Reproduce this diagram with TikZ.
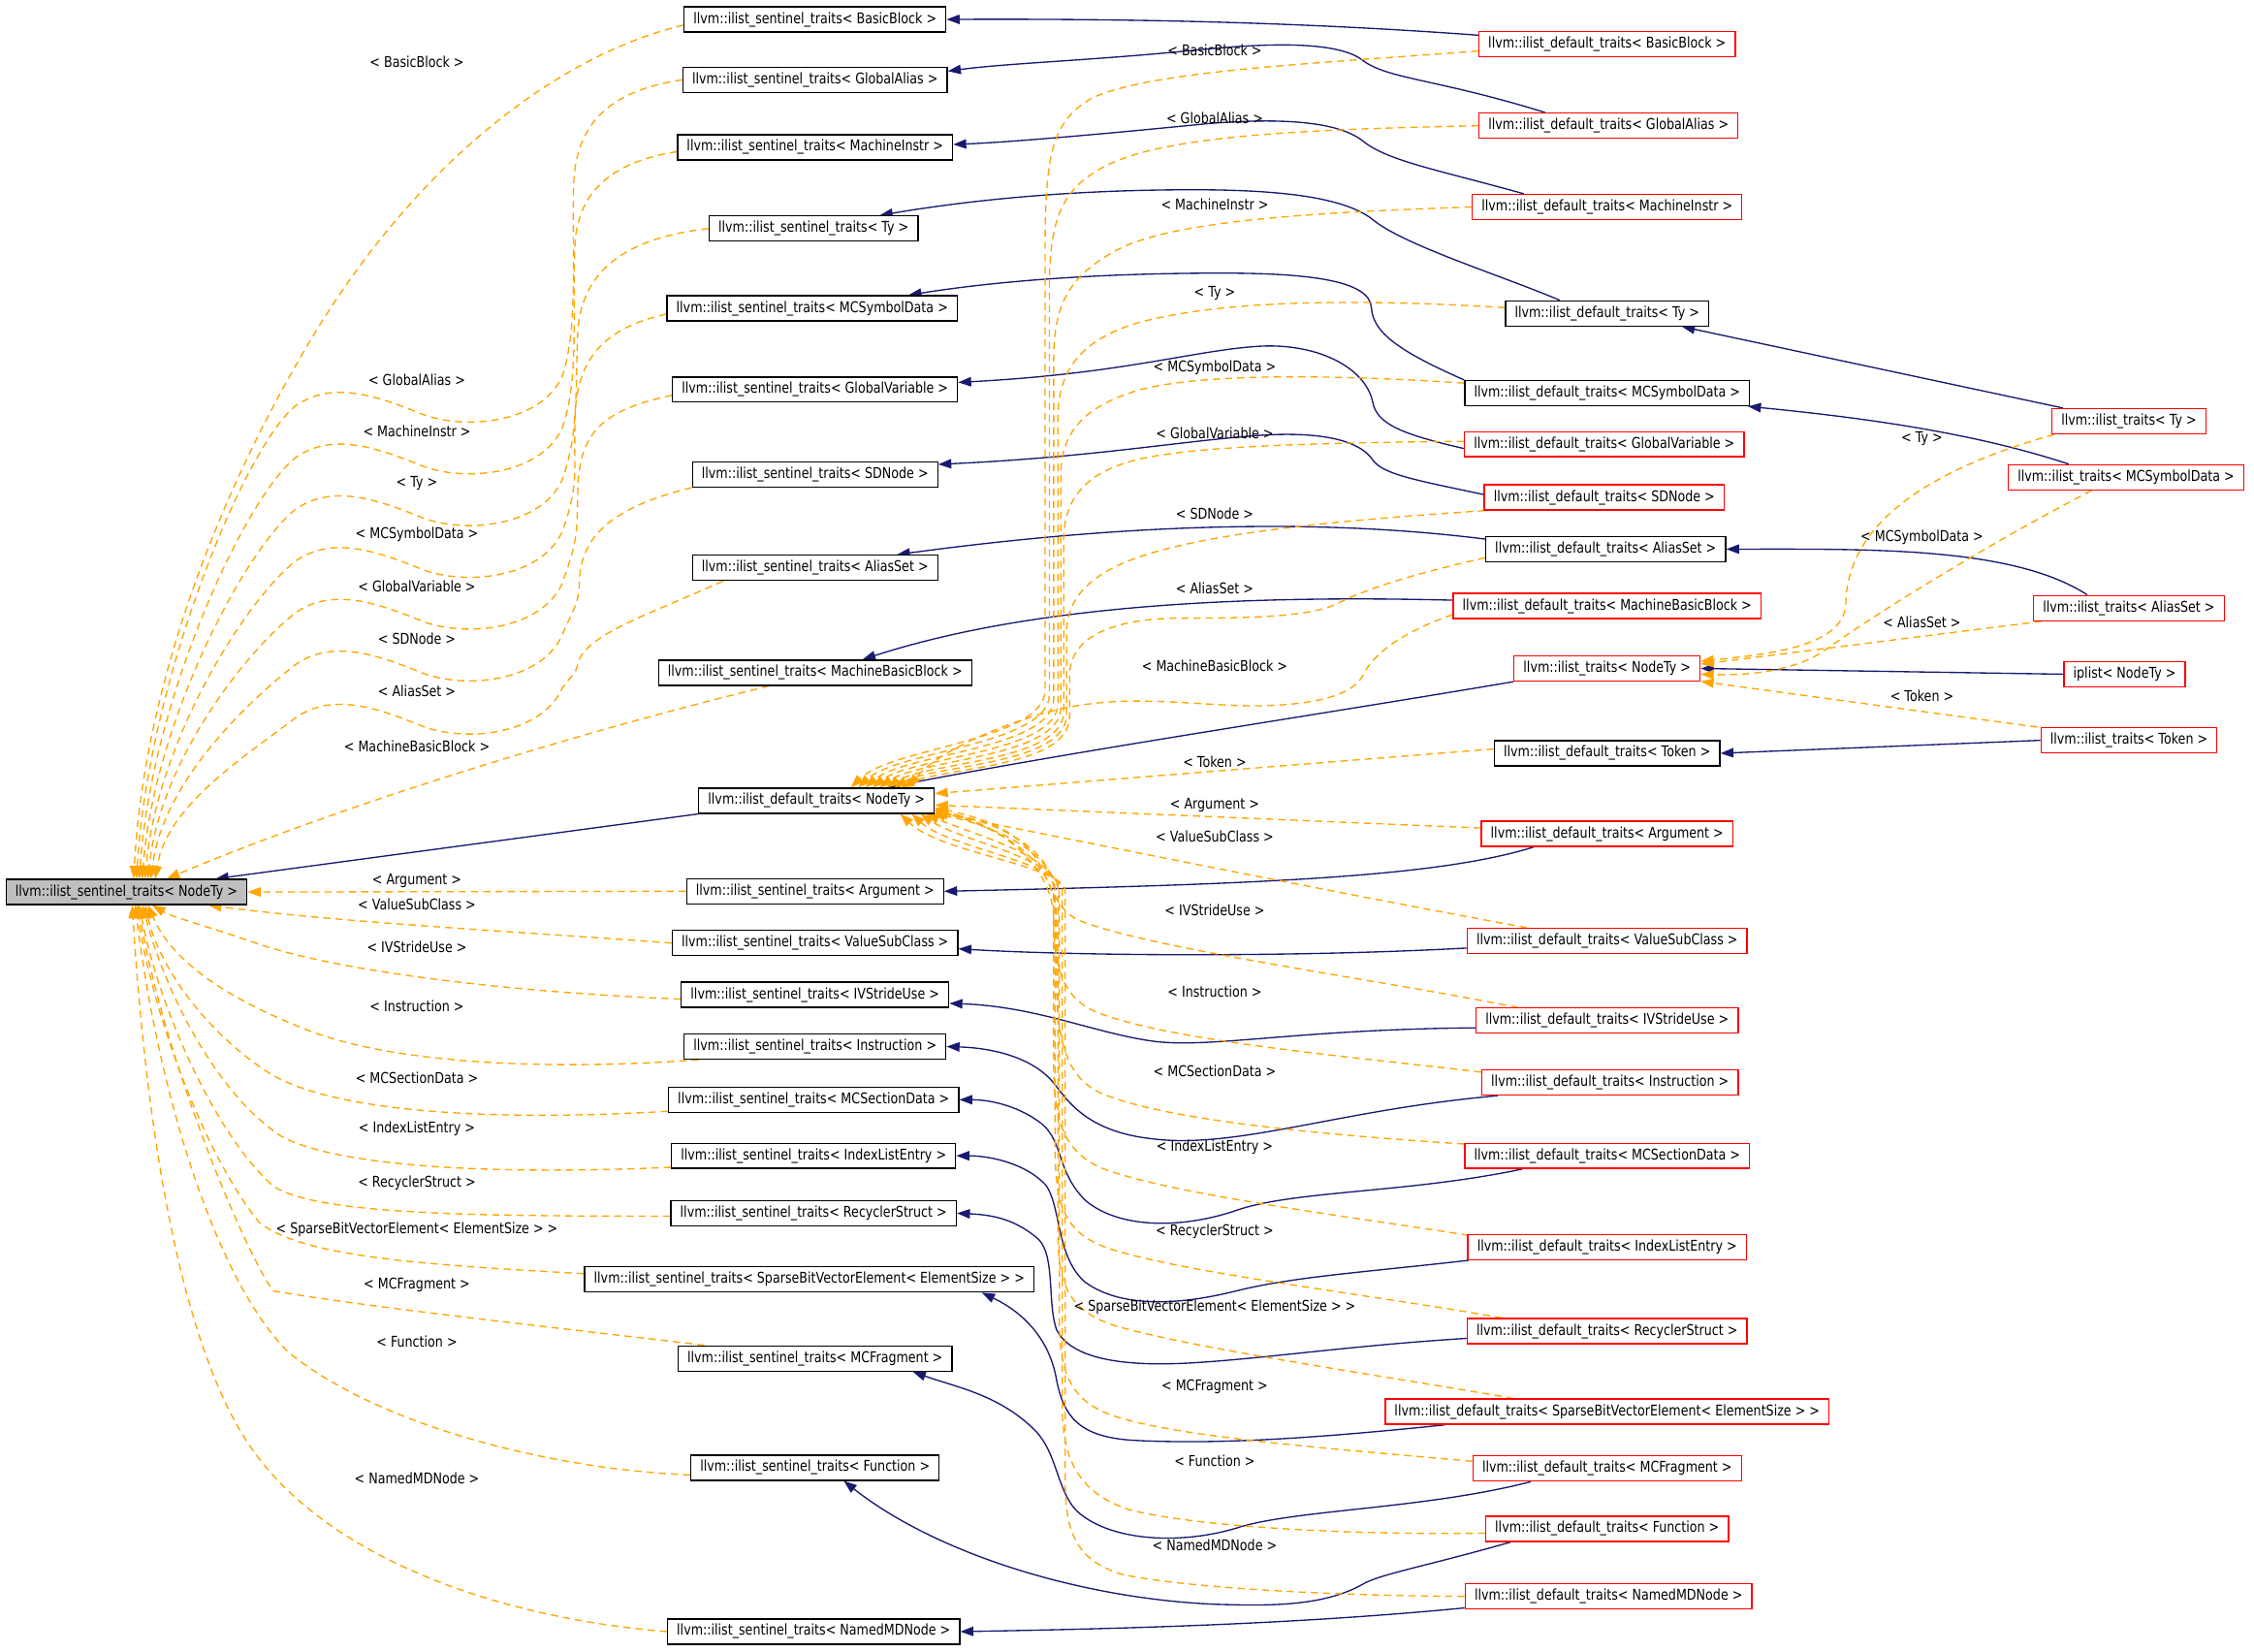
\documentclass[tikz,border=0pt]{standalone}
\usepackage{fontspec}
\setmainfont{DejaVu Sans}[FakeStretch=0.83]
\usetikzlibrary{arrows.meta,calc,backgrounds}
\newcommand{\dfont}{\fontsize{10.3}{12}\selectfont}
\definecolor{navy}{HTML}{191970}
\definecolor{dorange}{HTML}{FFA500}
\definecolor{rootgray}{HTML}{BFBFBF}
\tikzset{
 nbox/.style={draw=black, fill=white, line width=0.9pt, inner xsep=6.5pt, inner ysep=0pt, minimum height=17.5pt, font=\dfont},
 rbox/.style={nbox, draw=red},
 inh/.style={draw=navy, line width=0.9pt, -{Triangle[length=9pt,width=6.5pt]}},
 tmpl/.style={draw=dorange, line width=0.9pt, dash pattern=on 5pt off 3.5pt, -{Triangle[length=9pt,width=6.5pt]}},
 lbl/.style={font=\dfont, inner sep=0pt}
}
\begin{document}
\begin{tikzpicture}[x=1pt,y=-1pt]
\useasboundingbox (0,0) rectangle (1568,1149);
% root
\node[nbox, fill=rootgray] (R) at (88,620.5) {llvm::ilist\_sentinel\_traits< NodeTy >};
% sentinel column
\node[nbox] (SBB) at (567,13.5) {llvm::ilist\_sentinel\_traits< BasicBlock >};
\node[nbox] (SGA) at (567,55.5) {llvm::ilist\_sentinel\_traits< GlobalAlias >};
\node[nbox] (SMI) at (567,102.5) {llvm::ilist\_sentinel\_traits< MachineInstr >};
\node[nbox] (STY) at (566,159) {llvm::ilist\_sentinel\_traits< Ty >};
\node[nbox] (SMS) at (565,214.5) {llvm::ilist\_sentinel\_traits< MCSymbolData >};
\node[nbox] (SGV) at (567,271) {llvm::ilist\_sentinel\_traits< GlobalVariable >};
\node[nbox] (SSD) at (567,330) {llvm::ilist\_sentinel\_traits< SDNode >};
\node[nbox] (SAS) at (567,395) {llvm::ilist\_sentinel\_traits< AliasSet >};
\node[nbox] (SMB) at (567,468) {llvm::ilist\_sentinel\_traits< MachineBasicBlock >};
\node[nbox] (DN) at (568,557) {llvm::ilist\_default\_traits< NodeTy >};
\node[nbox] (SAR) at (567,620) {llvm::ilist\_sentinel\_traits< Argument >};
\node[nbox] (SVS) at (567,656) {llvm::ilist\_sentinel\_traits< ValueSubClass >};
\node[nbox] (SIV) at (567,692) {llvm::ilist\_sentinel\_traits< IVStrideUse >};
\node[nbox] (SIN) at (567,728) {llvm::ilist\_sentinel\_traits< Instruction >};
\node[nbox] (SMC) at (566,765) {llvm::ilist\_sentinel\_traits< MCSectionData >};
\node[nbox] (SIL) at (566,804) {llvm::ilist\_sentinel\_traits< IndexListEntry >};
\node[nbox] (SRS) at (566,844) {llvm::ilist\_sentinel\_traits< RecyclerStruct >};
\node[nbox] (SSB) at (563,890) {llvm::ilist\_sentinel\_traits< SparseBitVectorElement< ElementSize > >};
\node[nbox] (SMF) at (567,945) {llvm::ilist\_sentinel\_traits< MCFragment >};
\node[nbox] (SFN) at (567,1021) {llvm::ilist\_sentinel\_traits< Function >};
\node[nbox] (SNM) at (566,1135) {llvm::ilist\_sentinel\_traits< NamedMDNode >};
% default column
\node[rbox] (DBB) at (1118,30.5) {llvm::ilist\_default\_traits< BasicBlock >};
\node[rbox] (DGA) at (1119,87.5) {llvm::ilist\_default\_traits< GlobalAlias >};
\node[rbox] (DMI) at (1118,144) {llvm::ilist\_default\_traits< MachineInstr >};
\node[nbox] (DTY) at (1118,218) {llvm::ilist\_default\_traits< Ty >};
\node[nbox] (DMS) at (1118,273.5) {llvm::ilist\_default\_traits< MCSymbolData >};
\node[rbox] (DGV) at (1116,309) {llvm::ilist\_default\_traits< GlobalVariable >};
\node[rbox] (DSD) at (1116,346) {llvm::ilist\_default\_traits< SDNode >};
\node[nbox] (DAS) at (1117,382) {llvm::ilist\_default\_traits< AliasSet >};
\node[rbox] (DMB) at (1118,421.5) {llvm::ilist\_default\_traits< MachineBasicBlock >};
\node[rbox] (LN) at (1118,465) {llvm::ilist\_traits< NodeTy >};
\node[nbox] (DTK) at (1118,524) {llvm::ilist\_default\_traits< Token >};
\node[rbox] (DAR) at (1118,580) {llvm::ilist\_default\_traits< Argument >};
\node[rbox] (DVS) at (1118,654.5) {llvm::ilist\_default\_traits< ValueSubClass >};
\node[rbox] (DIV) at (1118,710) {llvm::ilist\_default\_traits< IVStrideUse >};
\node[rbox] (DIN) at (1120,753) {llvm::ilist\_default\_traits< Instruction >};
\node[rbox] (DMC) at (1118,804) {llvm::ilist\_default\_traits< MCSectionData >};
\node[rbox] (DIL) at (1118,867.5) {llvm::ilist\_default\_traits< IndexListEntry >};
\node[rbox] (DRS) at (1118,926) {llvm::ilist\_default\_traits< RecyclerStruct >};
\node[rbox] (DSB) at (1118,982) {llvm::ilist\_default\_traits< SparseBitVectorElement< ElementSize > >};
\node[rbox] (DMF) at (1118,1021.5) {llvm::ilist\_default\_traits< MCFragment >};
\node[rbox] (DFN) at (1118,1063.5) {llvm::ilist\_default\_traits< Function >};
\node[rbox] (DNM) at (1119,1110.5) {llvm::ilist\_default\_traits< NamedMDNode >};
% far right
\node[rbox] (LTY) at (1481,293) {llvm::ilist\_traits< Ty >};
\node[rbox] (LMS) at (1479,332) {llvm::ilist\_traits< MCSymbolData >};
\node[rbox] (LAS) at (1481,423) {llvm::ilist\_traits< AliasSet >};
\node[rbox] (IPL) at (1478,469) {iplist< NodeTy >};
\node[rbox] (LTK) at (1481,515) {llvm::ilist\_traits< Token >};
% labels left
\node[lbl] (a1) at (290,43) {< BasicBlock >};
\node[lbl] (a2) at (290,264) {< GlobalAlias >};
\node[lbl] (a3) at (290,300) {< MachineInstr >};
\node[lbl] (a4) at (290,336) {< Ty >};
\node[lbl] (a5) at (290,372) {< MCSymbolData >};
\node[lbl] (a6) at (290,408) {< GlobalVariable >};
\node[lbl] (a7) at (290,444) {< SDNode >};
\node[lbl] (a8) at (290,481) {< AliasSet >};
\node[lbl] (a9) at (290,519) {< MachineBasicBlock >};
\node[lbl] (a11) at (290,613) {< Argument >};
\node[lbl] (a12) at (290,629) {< ValueSubClass >};
\node[lbl] (a13) at (290,659) {< IVStrideUse >};
\node[lbl] (a14) at (290,700) {< Instruction >};
\node[lbl] (a15) at (290,750) {< MCSectionData >};
\node[lbl] (a16) at (290,785) {< IndexListEntry >};
\node[lbl] (a17) at (290,823) {< RecyclerStruct >};
\node[lbl] (a18) at (290,855) {< SparseBitVectorElement< ElementSize > >};
\node[lbl] (a19) at (290,894) {< MCFragment >};
\node[lbl] (a20) at (290,933) {< Function >};
\node[lbl] (a21) at (290,1028) {< NamedMDNode >};
% labels middle
\node[lbl] (b1) at (845,35) {< BasicBlock >};
\node[lbl] (b2) at (845,82) {< GlobalAlias >};
\node[lbl] (b3) at (845,142) {< MachineInstr >};
\node[lbl] (b4) at (845,204) {< Ty >};
\node[lbl] (b5) at (845,256) {< MCSymbolData >};
\node[lbl] (b6) at (845,301) {< GlobalVariable >};
\node[lbl] (b7) at (845,357) {< SDNode >};
\node[lbl] (b8) at (845,409) {< AliasSet >};
\node[lbl] (b9) at (845,463) {< MachineBasicBlock >};
\node[lbl] (b10) at (845,530) {< Token >};
\node[lbl] (b11) at (845,560) {< Argument >};
\node[lbl] (b12) at (845,582) {< ValueSubClass >};
\node[lbl] (b13) at (845,633) {< IVStrideUse >};
\node[lbl] (b14) at (845,690) {< Instruction >};
\node[lbl] (b15) at (845,745) {< MCSectionData >};
\node[lbl] (b16) at (845,798) {< IndexListEntry >};
\node[lbl] (b17) at (845,857) {< RecyclerStruct >};
\node[lbl] (b18) at (845,909) {< SparseBitVectorElement< ElementSize > >};
\node[lbl] (b19) at (845,965) {< MCFragment >};
\node[lbl] (b20) at (845,1016) {< Function >};
\node[lbl] (b21) at (845,1075) {< NamedMDNode >};
% labels right
\node[lbl] (c1) at (1337,305) {< Ty >};
\node[lbl] (c2) at (1337,374) {< MCSymbolData >};
\node[lbl] (c3) at (1337,433) {< AliasSet >};
\node[lbl] (c4) at (1337,484) {< Token >};

\begin{scope}[on background layer]
\fill[white] (0,0) rectangle (1568,1149);
% ---- inheritance (navy) ----
\draw[inh] ($(DBB.west)+(0,-6)$) .. controls (900,15) and (780,13) .. (SBB.east);
\draw[inh] ($(DGA.north)+(-44,0)$) .. controls (1000,55) and (965,55) .. (948,42) .. controls (930,28) and (880,30) .. (830,35) .. controls (760,42) and (700,44) .. ($(SGA.east)+(0,-6)$);
\draw[inh] ($(DMI.north)+(-58,0)$) .. controls (1000,118) and (965,112) .. (948,98) .. controls (930,84) and (890,82) .. (840,86) .. controls (760,94) and (700,99) .. ($(SMI.east)+(0,-2)$);
\draw[inh] ($(DTY.north)+(-33,0)$) .. controls (1040,190) and (975,170) .. (954,152) .. controls (935,138) and (895,132) .. (830,132) .. controls (740,132) and (670,140) .. ($(STY.north)+(46,0)$);
\draw[inh] (DMS.north west) .. controls (975,245) and (955,232) .. (954,214) .. controls (953,195) and (910,190) .. (850,190) .. controls (760,190) and (690,196) .. ($(SMS.north)+(67,0)$);
\draw[inh] ($(DGV.west)+(0,3)$) .. controls (975,302) and (958,295) .. (955,280) .. controls (950,255) and (915,238) .. (874,241) .. controls (830,244) and (780,260) .. ($(SGV.east)+(0,-5)$);
\draw[inh] ($(DSD.west)+(0,-2)$) .. controls (985,334) and (962,330) .. (955,320) .. controls (945,305) and (915,300) .. (874,303) .. controls (820,307) and (760,318) .. ($(SSD.east)+(0,-7)$);
\draw[inh] ($(DAS.west)+(0,-7)$) .. controls (930,362) and (800,362) .. ($(SAS.north)+(57,0)$);
\draw[inh] ($(DMB.west)+(0,-4)$) .. controls (870,414) and (720,420) .. ($(SMB.north)+(33,0)$);
\draw[inh] (LN.south west) .. controls (900,500) and (750,522) .. ($(DN.north)+(49,0)$);
\draw[inh] (DN.south west) -- ($(R.north)+(62,0)$);
\draw[inh] ($(LTY.north)+(-46,0)$) -- ($(DTY.south)+(52,0)$);
\draw[inh] ($(LMS.north)+(-40,0)$) .. controls (1370,300) and (1290,290) .. ($(DMS.south)+(98,0)$);
\draw[inh] ($(LAS.north)+(-29,0)$) .. controls (1400,380) and (1300,382) .. (DAS.east);
\draw[inh] (IPL.west) -- (LN.east);
\draw[inh] (LTK.west) -- (DTK.east);
\draw[inh] ($(DAR.south)+(-51,0)$) .. controls (1000,610) and (880,615) .. (SAR.east);
\draw[inh] ($(DVS.west)+(0,5)$) .. controls (900,666) and (750,665) .. ($(SVS.east)+(0,4)$);
\draw[inh] ($(DIV.west)+(0,5)$) .. controls (900,716) and (840,730) .. (800,724) .. controls (760,718) and (720,700) .. ($(SIV.east)+(0,6)$);
\draw[inh] ($(DIN.south)+(-78,0)$) .. controls (930,772) and (860,800) .. (800,792) .. controls (750,786) and (740,760) .. (730,750) .. controls (715,735) and (690,729) .. (SIN.east);
\draw[inh] ($(DMC.south)+(-59,0)$) .. controls (980,830) and (900,828) .. (860,842) .. controls (825,854) and (780,856) .. (755,835) .. controls (735,815) and (740,795) .. (725,782) .. controls (710,770) and (690,765) .. (SMC.east);
\draw[inh] ($(DIL.south west)+(1,0)$) .. controls (950,885) and (900,888) .. (860,898) .. controls (820,908) and (780,910) .. (755,892) .. controls (735,875) and (738,840) .. (728,825) .. controls (715,810) and (690,804) .. (SIL.east);
\draw[inh] ($(DRS.west)+(0,5)$) .. controls (940,936) and (880,945) .. (830,948) .. controls (780,951) and (745,945) .. (735,925) .. controls (728,905) and (735,870) .. (720,860) .. controls (705,848) and (690,845) .. (SRS.east);
\draw[inh] ($(DSB.south)+(-113,0)$) .. controls (920,1000) and (850,1005) .. (790,1002) .. controls (750,1000) and (740,985) .. (735,960) .. controls (730,930) and (710,912) .. ($(SSB.south)+(120,0)$);
\draw[inh] ($(DMF.south)+(-53,0)$) .. controls (990,1050) and (900,1050) .. (860,1063) .. controls (820,1075) and (770,1072) .. (748,1050) .. controls (735,1035) and (735,1010) .. (720,995) .. controls (695,970) and (665,965) .. ($(SMF.south)+(68,0)$);
\draw[inh] ($(DFN.south)+(-67,0)$) .. controls (990,1090) and (960,1095) .. (948,1102) .. controls (920,1118) and (880,1117) .. (846,1116) .. controls (750,1112) and (650,1080) .. ($(SFN.south)+(20,0)$);
\draw[inh] ($(DNM.west)+(0,8)$) .. controls (900,1130) and (780,1133) .. (SNM.east);
% ---- template edges to root ----
\draw[tmpl] ($(SBB.west)+(0,4)$) .. controls (400,35) and (300,100) .. (220,230) .. controls (150,345) and (100,480) .. ($(R.north)+(5,0)$);
\draw[tmpl] (SGA.west) .. controls (425,63) and (400,85) .. (399,130) .. controls (398,180) and (402,230) .. (391,262) .. controls (376,295) and (321,300) .. (291,287) .. controls (261,275) and (231,265) .. (206,282) .. controls (171,309) and (103,473) .. ($(R.north)+(7,0)$);
\draw[tmpl] ($(SMI.west)+(0,3)$) .. controls (430,112) and (402,130) .. (400,170) .. controls (398,220) and (403,265) .. (391,298) .. controls (376,331) and (321,336) .. (291,323) .. controls (261,311) and (231,301) .. (206,318) .. controls (171,345) and (105,487) .. ($(R.north)+(9,0)$);
\draw[tmpl] (STY.west) .. controls (440,165) and (405,185) .. (402,230) .. controls (400,270) and (403,301) .. (391,334) .. controls (376,367) and (321,372) .. (291,359) .. controls (261,347) and (231,337) .. (206,354) .. controls (171,381) and (107,502) .. ($(R.north)+(11,0)$);
\draw[tmpl] ($(SMS.west)+(0,4)$) .. controls (420,228) and (401,250) .. (400,290) .. controls (399,330) and (403,337) .. (391,370) .. controls (376,403) and (321,408) .. (291,395) .. controls (261,383) and (231,373) .. (206,390) .. controls (171,417) and (109,516) .. ($(R.north)+(13,0)$);
\draw[tmpl] ($(SGV.west)+(0,4)$) .. controls (420,285) and (403,300) .. (402,340) .. controls (401,370) and (403,373) .. (391,406) .. controls (376,439) and (321,444) .. (291,431) .. controls (261,419) and (231,409) .. (206,426) .. controls (171,453) and (111,530) .. ($(R.north)+(15,0)$);
\draw[tmpl] (SSD.south west) .. controls (430,352) and (404,370) .. (403,405) .. controls (403,420) and (398,425) .. (391,442) .. controls (376,475) and (321,480) .. (291,467) .. controls (261,455) and (231,445) .. (206,462) .. controls (171,489) and (113,545) .. ($(R.north)+(17,0)$);
\draw[tmpl] ($(SAS.south)+(-64,0)$) .. controls (450,428) and (406,442) .. (402,462) .. controls (400,470) and (397,470) .. (391,479) .. controls (376,512) and (321,517) .. (291,504) .. controls (261,492) and (231,482) .. (206,499) .. controls (171,526) and (116,560) .. ($(R.north)+(20,0)$);
\draw[tmpl] ($(SMB.south)+(-32,0)$) .. controls (420,505) and (250,555) .. ($(R.north)+(28,0)$);
\draw[tmpl] (SAR.west) -- (R.east);
\draw[tmpl] (SVS.west) .. controls (360,648) and (240,642) .. ($(R.south)+(57,0)$);
\draw[tmpl] ($(SIV.west)+(0,3)$) .. controls (350,690) and (230,675) .. (175,655) .. controls (140,643) and (120,638) .. ($(R.south)+(18,0)$);
\draw[tmpl] ($(SIN.south)+(-81,0)$) .. controls (380,745) and (270,740) .. (210,715) .. controls (160,695) and (120,670) .. ($(R.south)+(15,0)$);
\draw[tmpl] ($(SMC.west)+(0,8)$) .. controls (350,780) and (230,775) .. (185,745) .. controls (140,715) and (110,670) .. ($(R.south)+(13,0)$);
\draw[tmpl] ($(SIL.west)+(0,8)$) .. controls (330,818) and (230,810) .. (195,790) .. controls (150,760) and (115,690) .. ($(R.south)+(11,0)$);
\draw[tmpl] ($(SRS.west)+(0,2)$) .. controls (330,846) and (220,845) .. (190,825) .. controls (150,790) and (110,700) .. ($(R.south)+(9,0)$);
\draw[tmpl] ($(SSB.west)+(0,-4)$) .. controls (300,880) and (210,875) .. (180,850) .. controls (140,800) and (105,700) .. ($(R.south)+(7,0)$);
\draw[tmpl] ($(SMF.north)+(-77,0)$) .. controls (400,925) and (260,910) .. (190,898) .. controls (170,870) and (115,740) .. ($(R.south)+(8,0)$);
\draw[tmpl] ($(SFN.west)+(0,5)$) .. controls (380,1022) and (260,990) .. (200,940) .. controls (150,890) and (110,760) .. ($(R.south)+(6,0)$);
\draw[tmpl] (SNM.west) .. controls (340,1125) and (220,1080) .. (170,1000) .. controls (120,920) and (100,760) .. ($(R.south)+(4,0)$);
% ---- template edges to ilist_default_traits<NodeTy> ----
\draw[tmpl] ($(DBB.west)+(0,5)$) .. controls (900,45) and (800,50) .. (760,68) .. controls (730,85) and (727,110) .. (727,180) -- (727,480) .. controls (727,515) and (620,520) .. ($(DN.north)+(24,0)$);
\draw[tmpl] (DGA.west) .. controls (900,90) and (810,95) .. (770,115) .. controls (740,130) and (730,150) .. (730,200) -- (730,483) .. controls (730,518) and (625,522) .. ($(DN.north)+(29,0)$);
\draw[tmpl] (DMI.west) .. controls (900,148) and (810,155) .. (775,175) .. controls (745,192) and (733,210) .. (733,250) -- (733,486) .. controls (733,521) and (630,524) .. ($(DN.north)+(34,0)$);
\draw[tmpl] ($(DTY.west)+(0,-4)$) .. controls (950,208) and (850,208) .. (790,225) .. controls (755,236) and (736,255) .. (736,290) -- (736,489) .. controls (736,524) and (635,526) .. ($(DN.north)+(39,0)$);
\draw[tmpl] ($(DMS.west)+(0,-7)$) .. controls (920,260) and (830,260) .. (790,272) .. controls (755,283) and (738,300) .. (738,330) -- (738,492) .. controls (738,527) and (640,528) .. ($(DN.north)+(44,0)$);
\draw[tmpl] ($(DGV.west)+(0,-2)$) .. controls (920,308) and (830,310) .. (790,320) .. controls (758,328) and (740,345) .. (740,375) -- (740,495) .. controls (740,530) and (645,530) .. ($(DN.north)+(49,0)$);
\draw[tmpl] ($(DSD.south west)+(1,0)$) .. controls (930,362) and (850,370) .. (800,385) .. controls (760,397) and (742,415) .. (742,440) -- (742,497) .. controls (742,532) and (650,532) .. ($(DN.north)+(54,0)$);
\draw[tmpl] ($(DAS.west)+(0,6)$) .. controls (980,400) and (950,410) .. (930,420) .. controls (910,430) and (860,430) .. (817,430) .. controls (770,431) and (744,445) .. (744,470) -- (744,499) .. controls (744,534) and (655,534) .. ($(DN.north)+(59,0)$);
\draw[tmpl] ($(DMB.west)+(0,6)$) .. controls (975,440) and (955,455) .. (948,470) .. controls (940,485) and (910,491) .. (870,491) .. controls (820,490) and (780,482) .. (730,495) .. controls (690,506) and (650,525) .. ($(DN.north)+(64,0)$);
\draw[tmpl] ($(DTK.west)+(0,-3)$) -- ($(DN.east)+(0,-5)$);
\draw[tmpl] ($(DAR.west)+(0,-4)$) -- ($(DN.east)+(0,3)$);
\draw[tmpl] ($(DVS.north)+(-56,0)$) .. controls (950,625) and (750,585) .. ($(DN.east)+(0,8)$);
\draw[tmpl] ($(DIV.north)+(-62,0)$) .. controls (950,680) and (800,660) .. (750,640) .. controls (730,630) and (730,605) .. (715,590) .. controls (700,575) and (680,568) .. ($(DN.east)+(0,5)$);
\draw[tmpl] ($(DIN.north west)+(0,2)$) .. controls (940,735) and (820,725) .. (765,705) .. controls (738,695) and (733,670) .. (733,640) .. controls (733,605) and (700,575) .. ($(DN.east)+(0,6)$);
\draw[tmpl] ($(DMC.north west)+(0,1)$) .. controls (930,790) and (810,780) .. (765,760) .. controls (740,748) and (735,720) .. (735,680) -- (735,640) .. controls (735,600) and (700,577) .. ($(DN.east)+(0,7)$);
\draw[tmpl] ($(DIL.north west)+(1,1)$) .. controls (930,845) and (810,830) .. (765,812) .. controls (740,800) and (733,780) .. (733,740) -- (733,620) .. controls (733,590) and (690,570) .. ($(DN.east)+(0,8)$);
\draw[tmpl] ($(DRS.north)+(-73,0)$) .. controls (950,900) and (820,885) .. (770,868) .. controls (742,858) and (734,840) .. (734,800) -- (734,620) .. controls (734,592) and (685,572) .. ($(DN.south east)+(-2,0)$);
\draw[tmpl] ($(DSB.north)+(-65,0)$) .. controls (950,955) and (830,938) .. (775,922) .. controls (745,912) and (736,895) .. (736,860) -- (736,620) .. controls (736,595) and (675,580) .. ($(DN.south east)+(-6,0)$);
\draw[tmpl] ($(DMF.west)+(0,-5)$) .. controls (930,1008) and (820,1000) .. (775,985) .. controls (745,975) and (737,955) .. (737,920) -- (737,620) .. controls (737,597) and (668,585) .. ($(DN.south east)+(-10,0)$);
\draw[tmpl] ($(DFN.west)+(0,3)$) .. controls (940,1068) and (830,1062) .. (785,1050) .. controls (755,1040) and (739,1020) .. (739,980) -- (739,620) .. controls (739,600) and (660,590) .. ($(DN.south east)+(-16,0)$);
\draw[tmpl] (DNM.west) .. controls (920,1110) and (820,1104) .. (780,1095) .. controls (748,1085) and (741,1065) .. (741,1030) -- (741,620) .. controls (741,602) and (655,594) .. ($(DN.south east)+(-24,0)$);
% ---- template edges to ilist_traits<NodeTy> ----
\draw[tmpl] ($(LTY.south west)+(2,0)$) .. controls (1330,330) and (1285,370) .. (1284,420) .. controls (1283,450) and (1230,455) .. ($(LN.east)+(0,-5)$);
\draw[tmpl] ($(LMS.south)+(-24,0)$) .. controls (1380,380) and (1300,430) .. (1270,452) .. controls (1250,466) and (1220,470) .. ($(LN.east)+(0,4)$);
\draw[tmpl] ($(LAS.south west)+(6,0)$) -- ($(LN.east)+(0,-3)$);
\draw[tmpl] ($(LTK.north west)+(-2,0)$) -- ($(LN.east)+(0,9)$);
\end{scope}
\end{tikzpicture}
\end{document}
